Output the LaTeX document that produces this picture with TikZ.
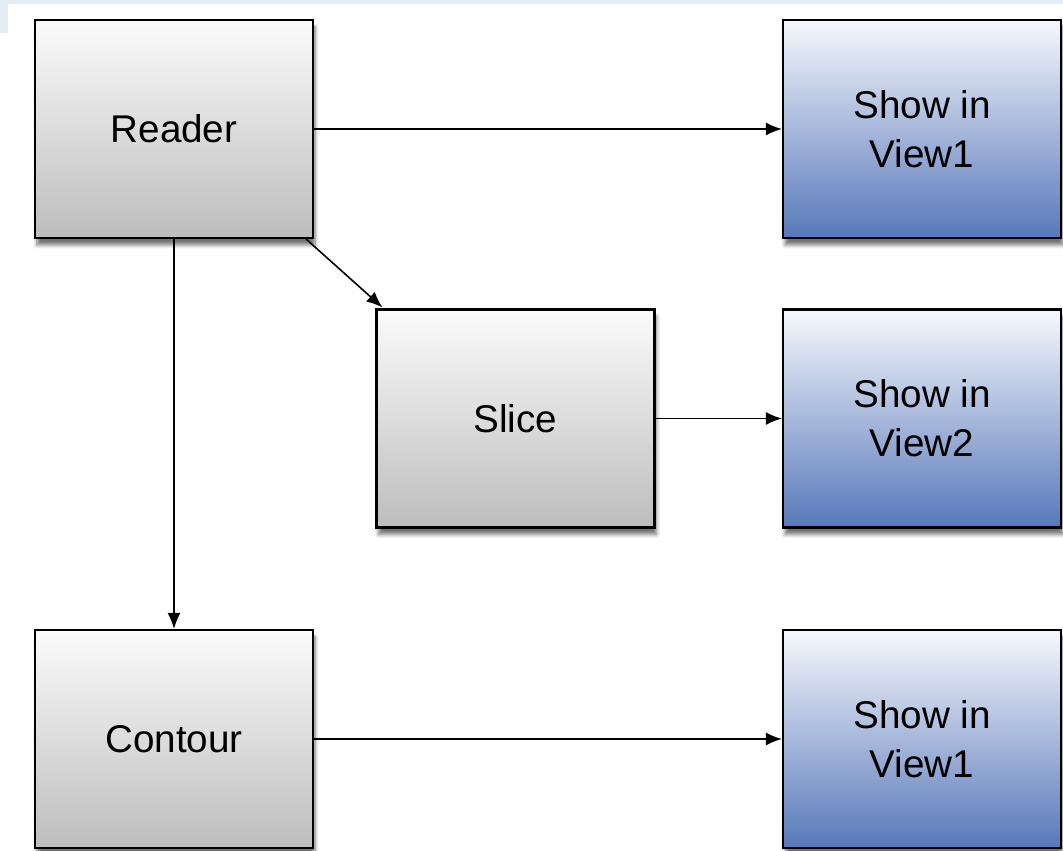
\documentclass[tikz,border=0pt]{standalone}
\usepackage{fontspec}
\setmainfont{Liberation Sans}
\usetikzlibrary{arrows.meta,shadows.blur}
\definecolor{bandblue}{HTML}{E4ECF4}
\definecolor{viewtop}{HTML}{F6F8FC}
\definecolor{viewbot}{HTML}{5878BA}
\definecolor{grytop}{HTML}{FBFBFB}
\definecolor{grybot}{HTML}{BDBDBD}
\begin{document}
\begin{tikzpicture}[
	filterbox/.style={draw=black, line width=1.2pt, minimum width=5.56cm, minimum height=4.36cm,
		top color=grytop, bottom color=grybot, align=center,
		blur shadow={shadow xshift=0.04cm, shadow yshift=-0.14cm, shadow blur steps=6, shadow opacity=55},
		font=\fontsize{22}{28}\selectfont},
	viewbox/.style={filterbox, top color=viewtop, bottom color=viewbot},
	conn/.style={line width=0.9pt, -{Latex[length=0.32cm, width=0.26cm]}}
]

	\useasboundingbox (0,0) rectangle (21.26,17.02);
	\fill[bandblue] (0,16.94) rectangle (21.26,17.02);
	\fill[bandblue] (0,16.36) rectangle (0.16,17.02);

	\node[filterbox] (reader) at (3.48, 14.44) {Reader};
	\node[viewbox] (view1) at (18.44, 14.44) {Show in\\View1};
	\node[filterbox] (slice) at (10.31, 8.65) {Slice};
	\node[viewbox] (view2) at (18.44, 8.65) {Show in\\View2};
	\node[filterbox] (contour) at (3.48, 2.24) {Contour};
	\node[viewbox] (view3) at (18.44, 2.24) {Show in\\View1};

	\draw[conn] (reader) -- (view1);
	\draw[conn] ([xshift=-0.16cm]reader.south east) -- ([xshift=0.14cm, yshift=0.02cm]slice.north west);
	\draw[conn] (reader) -- (contour);
	\draw[conn] (slice) -- (view2);
	\draw[conn] (contour) -- (view3);

\end{tikzpicture}
\end{document}
